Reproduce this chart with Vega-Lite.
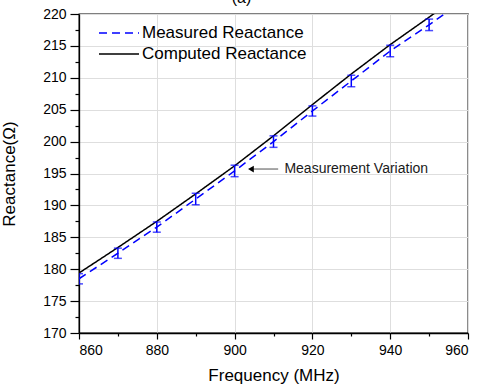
{
  "$schema": "https://vega.github.io/schema/vega-lite/v6.json",
  "width": 389,
  "height": 319,
  "autosize": {"type": "none"},
  "padding": {"left": 79, "top": 14, "right": 13, "bottom": 57},
  "background": "white",
  "title": {"text": "(a)", "fontSize": 16, "font": "Liberation Sans", "fontWeight": "normal", "anchor": "middle", "dx": -32, "offset": 1, "color": "black"},
  "config": {
    "font": "Liberation Sans",
    "view": {"stroke": "black", "strokeWidth": 1.3},
    "axis": {"domainColor": "black", "domainWidth": 1.3, "tickColor": "black", "tickWidth": 1.2, "labelColor": "black", "titleColor": "black", "labelFont": "Liberation Sans", "titleFont": "Liberation Sans", "titleFontWeight": "normal", "gridColor": "#dedede", "gridWidth": 1}
  },
  "datasets": {
    "lines": [
      {"freq": 860, "reactance": 178.5, "series": "Measured Reactance"},
      {"freq": 870, "reactance": 182.5, "series": "Measured Reactance"},
      {"freq": 880, "reactance": 186.6, "series": "Measured Reactance"},
      {"freq": 890, "reactance": 191.0, "series": "Measured Reactance"},
      {"freq": 900, "reactance": 195.4, "series": "Measured Reactance"},
      {"freq": 910, "reactance": 200.0, "series": "Measured Reactance"},
      {"freq": 920, "reactance": 204.8, "series": "Measured Reactance"},
      {"freq": 930, "reactance": 209.5, "series": "Measured Reactance"},
      {"freq": 940, "reactance": 214.2, "series": "Measured Reactance"},
      {"freq": 950, "reactance": 218.3, "series": "Measured Reactance"},
      {"freq": 960, "reactance": 222.6, "series": "Measured Reactance"},
      {"freq": 860, "reactance": 179.4, "series": "Computed Reactance"},
      {"freq": 870, "reactance": 183.4, "series": "Computed Reactance"},
      {"freq": 880, "reactance": 187.5, "series": "Computed Reactance"},
      {"freq": 890, "reactance": 191.8, "series": "Computed Reactance"},
      {"freq": 900, "reactance": 196.2, "series": "Computed Reactance"},
      {"freq": 910, "reactance": 200.9, "series": "Computed Reactance"},
      {"freq": 920, "reactance": 205.8, "series": "Computed Reactance"},
      {"freq": 930, "reactance": 210.6, "series": "Computed Reactance"},
      {"freq": 940, "reactance": 215.2, "series": "Computed Reactance"},
      {"freq": 950, "reactance": 219.5, "series": "Computed Reactance"},
      {"freq": 960, "reactance": 224.0, "series": "Computed Reactance"}
    ],
    "errors": [
      {"freq": 860, "lo": 177.7, "hi": 179.3},
      {"freq": 870, "lo": 181.7, "hi": 183.3},
      {"freq": 880, "lo": 185.8, "hi": 187.4},
      {"freq": 890, "lo": 190.1, "hi": 191.9},
      {"freq": 900, "lo": 194.5, "hi": 196.3},
      {"freq": 910, "lo": 199.1, "hi": 200.9},
      {"freq": 920, "lo": 204.0, "hi": 205.6},
      {"freq": 930, "lo": 208.6, "hi": 210.4},
      {"freq": 940, "lo": 213.3, "hi": 215.1},
      {"freq": 950, "lo": 217.4, "hi": 219.2}
    ],
    "arrow": [
      {"freq": 904.6, "freq2": 911.2, "reactance": 195.7}
    ],
    "head": [
      {"freq": 904.2, "reactance": 195.7}
    ],
    "note": [
      {"freq": 912.8, "reactance": 195.7, "label": "Measurement Variation"}
    ]
  },
  "resolve": {"axis": {"x": "independent", "y": "independent"}},
  "layer": [
    {
      "data": {"name": "lines"},
      "mark": {"type": "line", "strokeWidth": 1.5, "clip": true},
      "encoding": {
        "x": {"field": "freq", "type": "quantitative", "scale": {"domain": [860, 960], "nice": false, "zero": false},
              "axis": {"orient": "bottom", "title": "Frequency (MHz)", "titleFontSize": 17, "titlePadding": 10, "labelFontSize": 14, "labelPadding": 4, "values": [860, 880, 900, 920, 940, 960], "tickSize": 6, "grid": true, "format": "d"}},
        "y": {"field": "reactance", "type": "quantitative", "scale": {"domain": [170, 220], "nice": false, "zero": false},
              "axis": {"orient": "left", "title": "Reactance(Ω)", "titleFontSize": 17, "titlePadding": 24, "labelFontSize": 14, "labelPadding": 4, "values": [170, 175, 180, 185, 190, 195, 200, 205, 210, 215, 220], "tickSize": 9, "grid": true, "format": "d"}},
        "color": {"field": "series", "type": "nominal", "scale": {"domain": ["Measured Reactance", "Computed Reactance"], "range": ["#0000ff", "#000000"]},
                  "legend": {"title": null, "orient": "none", "legendX": 29, "legendY": 8, "symbolType": "M-2,0H2", "symbolSize": 400, "symbolStrokeWidth": 1.5, "symbolFillColor": "transparent", "labelFontSize": 17, "labelColor": "black", "labelLimit": 0, "rowPadding": 2, "padding": 0, "labelOffset": 12}},
        "strokeDash": {"field": "series", "type": "nominal", "scale": {"domain": ["Measured Reactance", "Computed Reactance"], "range": [[8, 5], [1, 0]]},
                  "legend": {"title": null, "orient": "none", "legendX": 29, "legendY": 8, "symbolType": "M-2,0H2", "symbolSize": 400, "symbolStrokeWidth": 1.5, "symbolFillColor": "transparent", "labelFontSize": 17, "labelColor": "black", "labelLimit": 0, "rowPadding": 2, "padding": 0, "labelOffset": 12}}
      }
    },
    {
      "data": {"name": "errors"},
      "mark": {"type": "errorbar", "color": "#0000ff", "thickness": 1.5, "ticks": {"size": 8, "thickness": 1.5, "color": "#0000ff"}, "clip": true},
      "encoding": {
        "x": {"field": "freq", "type": "quantitative",
              "axis": {"orient": "bottom", "title": null, "labels": false, "domain": false, "grid": false, "values": [870, 890, 910, 930, 950], "tickSize": 3}},
        "y": {"field": "lo", "type": "quantitative",
              "axis": {"orient": "left", "title": null, "labels": false, "domain": false, "grid": false, "values": [172.5, 177.5, 182.5, 187.5, 192.5, 197.5, 202.5, 207.5, 212.5, 217.5], "tickSize": 4}},
        "y2": {"field": "hi"}
      }
    },
    {
      "data": {"name": "arrow"},
      "mark": {"type": "rule", "color": "#8a8a8a", "strokeWidth": 1.5},
      "encoding": {
        "x": {"field": "freq", "type": "quantitative", "axis": null},
        "x2": {"field": "freq2"},
        "y": {"field": "reactance", "type": "quantitative", "axis": null}
      }
    },
    {
      "data": {"name": "head"},
      "mark": {"type": "point", "shape": "triangle-left", "filled": true, "color": "black", "size": 45, "opacity": 1},
      "encoding": {
        "x": {"field": "freq", "type": "quantitative", "axis": null},
        "y": {"field": "reactance", "type": "quantitative", "axis": null}
      }
    },
    {
      "data": {"name": "note"},
      "mark": {"type": "text", "align": "left", "baseline": "middle", "fontSize": 14, "color": "#1a1a1a", "font": "Liberation Sans"},
      "encoding": {
        "x": {"field": "freq", "type": "quantitative", "axis": null},
        "y": {"field": "reactance", "type": "quantitative", "axis": null},
        "text": {"field": "label"}
      }
    }
  ]
}
